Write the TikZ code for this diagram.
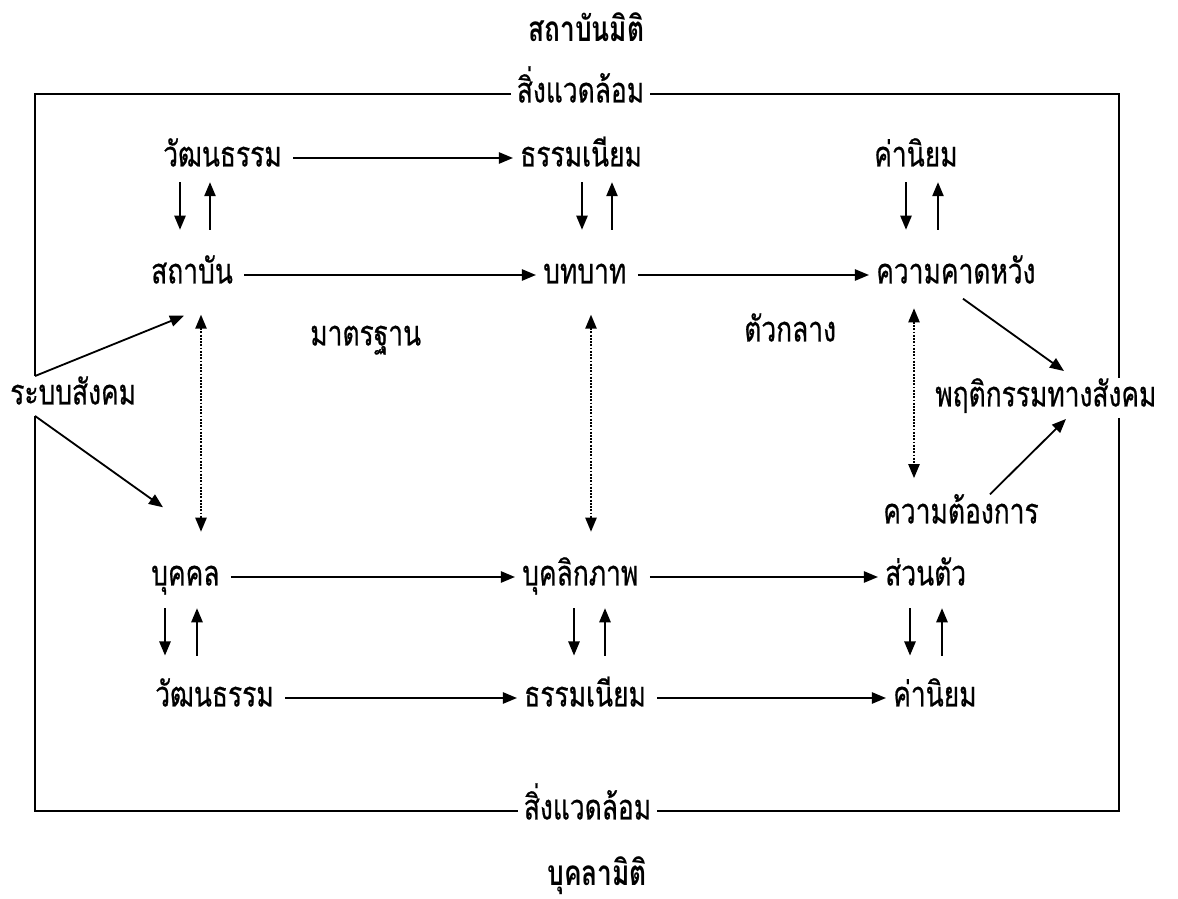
\documentclass[tikz,border=0pt]{standalone}
\usepackage{fontspec}
\newfontfamily\thaifont[Script=Thai,FakeStretch=0.75,FakeBold=0.6]{Loma}
\newfontfamily\thaibold[Script=Thai,FakeStretch=0.75]{Loma Bold}
\usetikzlibrary{arrows.meta}
\usetikzlibrary{calc}
\tikzset{lbl/.style={font=\thaifont\fontsize{25}{27}\selectfont, inner sep=0pt, text height=12pt, text depth=0pt, anchor=west}}
\tikzset{ttl/.style={lbl, font=\thaibold\fontsize{25}{27}\selectfont}}
\tikzset{frame/.style={black, line width=1.3pt}}
\tikzset{harr/.style={black, line width=1.3pt, ->, shorten <=8pt, shorten >=5pt}}
\tikzset{vpair/.style 2 args={black, line width=1.3pt, ->, shorten <=#1, shorten >=#2}}
\tikzset{dots/.style 2 args={black, line width=1.3pt, densely dotted, <->, shorten <=#1, shorten >=#2}}

\begin{document}
\begin{tikzpicture}[x=0.025cm, y=-0.025cm, >={Triangle[length=10pt,width=8pt]}]
\useasboundingbox (0,0) rectangle (1178,899);
% titles and frame labels
\node[ttl] (titleT) at (528,33) {สถาบันมิติ};
\node[lbl, inner xsep=4pt] (envT) at (511,94) {สิ่งแวดล้อม};
\node[lbl, inner xsep=4pt] (envB) at (518,811) {สิ่งแวดล้อม};
\node[ttl] (titleB) at (547,877) {บุคลามิติ};
% institution side
\node[lbl] (cultA) at (163,158) {วัฒนธรรม};
\node[lbl] (normA) at (520,158) {ธรรมเนียม};
\node[lbl] (valA) at (874,158) {ค่านิยม};
\node[lbl] (inst) at (151,275) {สถาบัน};
\node[lbl] (role) at (543,275) {บทบาท};
\node[lbl] (expect) at (876,275) {ความคาดหวัง};
\node[lbl] (std) at (310,337) {มาตรฐาน};
\node[lbl] (mid) at (744,333) {ตัวกลาง};
\node[lbl, inner ysep=8pt] (social) at (10,396) {ระบบสังคม};
\node[lbl, inner ysep=8pt] (behav) at (935,398) {พฤติกรรมทางสังคม};
% individual side
\node[lbl] (need) at (883,515) {ความต้องการ};
\node[lbl] (person) at (151,577) {บุคคล};
\node[lbl] (pers) at (522,577) {บุคลิกภาพ};
\node[lbl] (own) at (885,577) {ส่วนตัว};
\node[lbl] (cultB) at (155,698) {วัฒนธรรม};
\node[lbl] (normB) at (524,698) {ธรรมเนียม};
\node[lbl] (valB) at (893,698) {ค่านิยม};
% frame
\coordinate (L) at (35,0);
\coordinate (R) at (1119,0);
\draw[frame] (envT.west) -| (social.north -| L);
\draw[frame] (social.south -| L) |- (envB.west);
\draw[frame] (envT.east) -| (behav.north -| R);
\draw[frame] (behav.south -| R) |- (envB.east);
% horizontal arrows
\foreach \a/\b in {cultA/normA, inst/role, role/expect, person/pers, pers/own, cultB/normB, normB/valB}
  \draw[harr] (\a.east) -- (\b.west);
% up and down pairs
\foreach \a/\b/\x/\y in {cultA/inst/180/210, normA/role/582/612, valA/expect/906/938}{
  \draw[vpair={11pt}{26pt}] (\a.south -| \x,0) -- (\b.north -| \x,0);
  \draw[vpair={26pt}{11pt}] (\b.north -| \y,0) -- (\a.south -| \y,0);
}
\foreach \a/\b/\x/\y in {person/cultB/165/197, pers/normB/574/605, own/valB/910/942}{
  \draw[vpair={16pt}{24pt}] (\a.south -| \x,0) -- (\b.north -| \x,0);
  \draw[vpair={24pt}{16pt}] (\b.north -| \y,0) -- (\a.south -| \y,0);
}
% dotted links
\draw[dots={22pt}{26pt}] (inst.south -| 201,0) -- (person.north -| 201,0);
\draw[dots={22pt}{26pt}] (role.south -| 591,0) -- (pers.north -| 591,0);
\draw[dots={17.5pt}{20pt}] (expect.south -| 914,0) -- (need.north -| 914,0);
% diagonal arrows
\draw[harr, shorten <=0pt, shorten >=0pt] (social.north -| L) -- ($(inst.south west)+(33,32)$);
\draw[harr, shorten <=0pt, shorten >=0pt] (social.south -| L) -- ($(person.north west)+(12,-61)$);
\draw[harr, shorten <=0pt, shorten >=0pt] ($(expect.south west)+(87,15)$) -- ($(behav.north west)+(129,-7)$);
\draw[harr, shorten <=0pt, shorten >=0pt] ($(need.north west)+(107,-12)$) -- ($(behav.south west)+(131,1)$);
\end{tikzpicture}
\end{document}
